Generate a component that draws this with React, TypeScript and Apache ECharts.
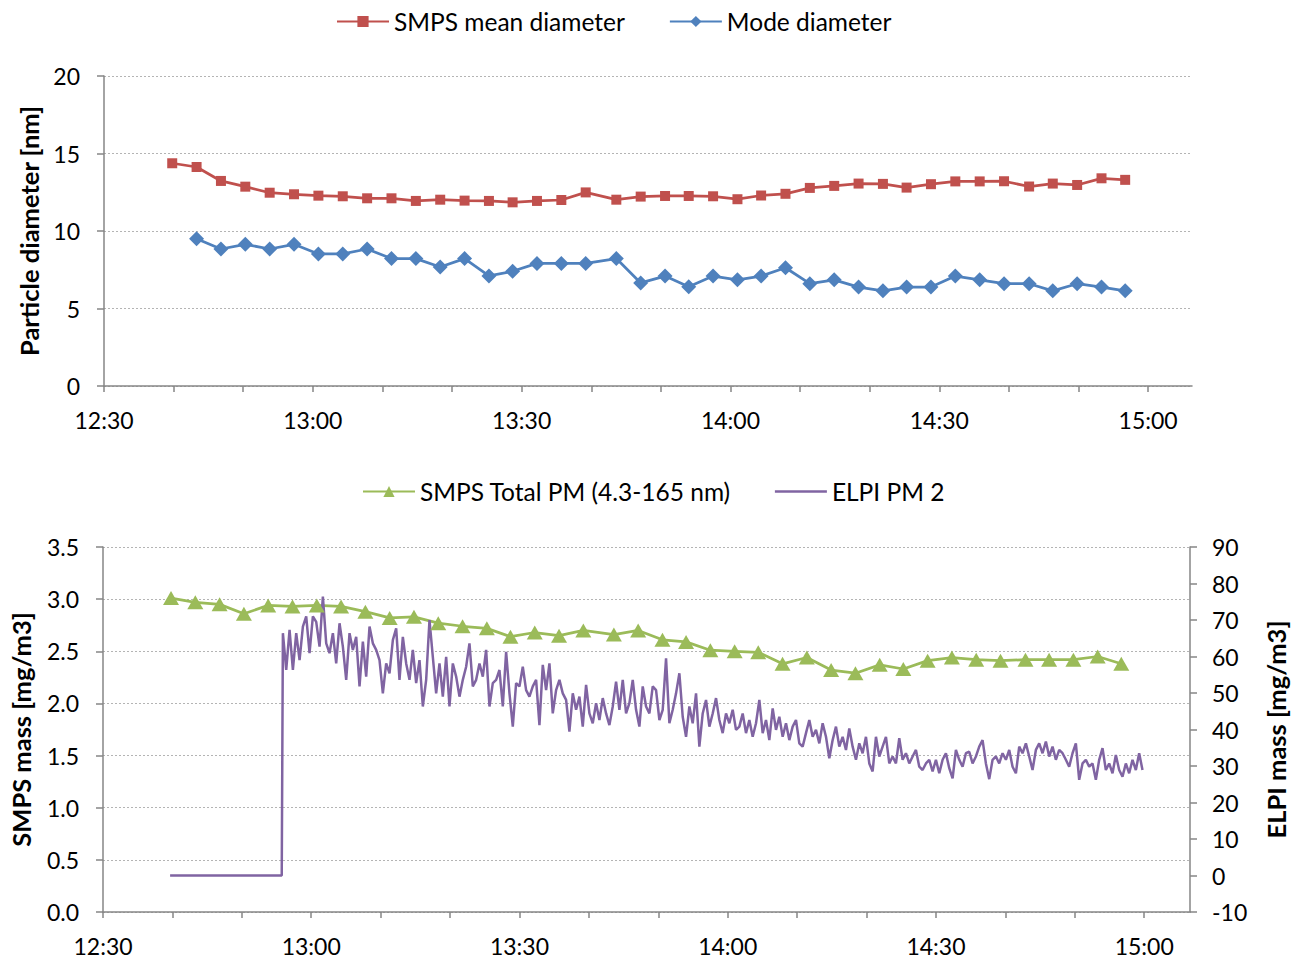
import { useEffect, useRef } from "react";
import * as echarts from "echarts";

// SMPS scan start times (one scan every ~3.5 min)
const smpsTimes = [
  "12:39:48", "12:43:18", "12:46:48", "12:50:18", "12:53:48", "12:57:18", "13:00:48", "13:04:18",
  "13:07:48", "13:11:18", "13:14:48", "13:18:18", "13:21:48", "13:25:18", "13:28:42", "13:32:12",
  "13:35:42", "13:39:12", "13:43:36", "13:47:06", "13:50:36", "13:54:00", "13:57:30", "14:01:00",
  "14:04:24", "14:07:54", "14:11:24", "14:14:54", "14:18:24", "14:21:54", "14:25:18", "14:28:48",
  "14:32:18", "14:35:48", "14:39:18", "14:42:54", "14:46:18", "14:49:48", "14:53:18", "14:56:42",
];

// SMPS mean diameter [nm], one value per scan
const smpsMeanDiameter = [
  14.37, 14.13, 13.23, 12.86, 12.47, 12.37, 12.28, 12.24, 12.11, 12.11,
  11.94, 12.02, 11.96, 11.94, 11.85, 11.94, 12.0, 12.49, 12.02, 12.22,
  12.26, 12.26, 12.24, 12.05, 12.29, 12.4, 12.78, 12.91, 13.06, 13.04,
  12.8, 13.02, 13.2, 13.2, 13.21, 12.87, 13.06, 12.97, 13.4, 13.3,
];

// Mode diameter [nm], available from the second scan on
const modeDiameter = [
  9.5, 8.84, 9.14, 8.84, 9.14, 8.52, 8.52, 8.84, 8.22, 8.22,
  7.68, 8.22, 7.1, 7.4, 7.91, 7.91, 7.91, 8.22, 6.65, 7.09,
  6.4, 7.09, 6.85, 7.09, 7.63, 6.6, 6.85, 6.38, 6.14, 6.38,
  6.38, 7.09, 6.85, 6.6, 6.6, 6.14, 6.6, 6.38, 6.14,
];

// SMPS total particle mass (4.3-165 nm) [mg/m3]
const smpsTotalPM = [
  3.01, 2.97, 2.95, 2.86, 2.94, 2.93, 2.94, 2.93, 2.88, 2.82,
  2.83, 2.77, 2.74, 2.72, 2.64, 2.68, 2.65, 2.7, 2.66, 2.7,
  2.61, 2.59, 2.51, 2.5, 2.49, 2.38, 2.44, 2.32, 2.29, 2.37,
  2.33, 2.41, 2.44, 2.42, 2.41, 2.42, 2.42, 2.42, 2.45, 2.38,
];

// ELPI background before the exposure started [time, mg/m3]
const elpiBackground: [string, number][] = [
  ["12:39:40", 0.0],
  ["12:55:45", 0.0],
];

// ELPI PM 2 record, logged every 28.8 s from elpiStart [mg/m3]
const elpiStart = "12:55:55";
const elpiStepSeconds = 28.8;
const elpiPM2 = [
  66.4, 56.3, 67.3, 56.3, 66.4, 59.0, 68.2, 71.0, 60.9, 71.0,
  69.5, 62.7, 76.4, 63.6, 60.9, 66.4, 58.1, 69.1, 62.7, 53.6,
  66.4, 61.8, 65.4, 51.8, 64.1, 54.5, 68.2, 63.6, 61.8, 59.0,
  49.9, 58.1, 55.4, 64.5, 67.7, 53.6, 65.4, 58.1, 53.6, 61.8,
  52.7, 59.0, 46.3, 53.6, 70.0, 59.9, 49.9, 58.1, 49.0, 59.9,
  46.3, 58.1, 54.5, 49.0, 53.6, 57.2, 63.6, 51.8, 53.6, 58.1,
  54.5, 61.8, 46.3, 52.7, 53.6, 56.3, 46.3, 61.3, 49.9, 40.8,
  52.7, 51.8,
  57.2, 50.8, 49.0, 51.8, 53.6, 41.2, 57.7, 50.8, 58.1, 44.4,
  50.8, 53.6, 49.9, 48.1, 39.4, 49.9, 45.4, 49.0, 40.8, 52.2,
  44.4, 41.7, 47.2, 42.6, 48.6, 44.4, 41.2, 46.3, 53.1, 45.4,
  53.6, 44.4, 47.2, 53.6, 45.4, 40.8, 51.8, 46.3, 44.4, 51.8,
  50.8, 42.6, 45.4, 59.5, 41.7, 45.4, 49.9, 55.4, 43.5, 38.0,
  46.3, 41.7, 49.9, 35.3, 44.4, 48.1, 40.8, 44.4, 48.6, 42.6,
  39.0, 44.4, 41.7, 45.4, 39.9, 40.8, 44.4, 39.0, 42.6,
  38.0, 41.7, 48.1, 39.0, 42.6, 37.1, 45.8, 39.9, 43.5, 38.0,
  41.7, 37.1, 40.8, 42.6, 36.2, 35.3, 39.0, 42.6, 38.0, 39.9,
  36.2, 41.7, 38.0, 32.1, 37.1, 40.8, 35.3, 38.0, 34.4, 40.3,
  35.3, 31.7, 36.2, 33.5, 38.0, 30.7, 28.5, 38.0, 32.6, 35.3,
  38.0, 30.7, 32.6, 30.7, 37.6, 31.7, 33.5, 30.7, 32.6, 34.4,
  29.8, 28.9, 30.7, 31.7, 28.5, 31.7, 28.0, 31.7, 33.5, 29.4,
  26.6, 34.4,
  31.7, 29.8, 33.5, 33.9, 30.7, 32.6, 35.3, 37.1, 30.7, 26.4,
  31.7, 32.6, 30.7, 33.5, 31.7, 34.4, 29.8, 28.0, 35.3, 33.5,
  36.2, 32.6, 28.9, 34.4, 36.2, 33.5, 36.7, 32.6, 35.3, 31.7,
  34.4, 33.5, 31.7, 29.8, 33.5, 36.2, 26.2, 30.7, 31.7, 29.8,
  30.7, 26.2, 31.7, 34.9, 28.9, 30.7, 28.0, 33.0, 28.9, 27.1,
  30.7, 28.0, 31.7, 28.9, 33.5, 28.9,
];

// Time axis labels
const timeLabels = ["12:30", "13:00", "13:30", "14:00", "14:30", "15:00"];

const toMinutes = (t: string) => {
  const [h, m, s] = t.split(":").map(Number);
  return h * 60 + m + (s || 0) / 60;
};
const fmtTime = (v: number) => {
  const h = Math.floor(v / 60);
  const m = Math.round(v - h * 60);
  return `${h}:${String(m).padStart(2, "0")}`;
};

const FONT = "Lato";
const AXIS_GRAY = "#868686";
const GRID_GRAY = "#b4b4b4";
const LINE_ICON = "path://M0,0H100V5H0Z";

export default function App() {
  const ref = useRef<HTMLDivElement>(null);

  useEffect(() => {
    if (!ref.current) return;
    const chart = echarts.init(ref.current, undefined, { renderer: "svg" });

    const smpsX = smpsTimes.map(toMinutes);
    const meanData = smpsMeanDiameter.map((v, i) => [smpsX[i], v]);
    const modeData = modeDiameter.map((v, i) => [smpsX[i + 1], v]);
    const totalData = smpsTotalPM.map((v, i) => [smpsX[i], v]);
    const elpiT0 = toMinutes(elpiStart);
    const elpiData = [
      ...elpiBackground.map(([t, v]) => [toMinutes(t), v]),
      ...elpiPM2.map((v, i) => [elpiT0 + (i * elpiStepSeconds) / 60, v]),
    ];

    const labelVals = timeLabels.map(toMinutes);
    const tMin = labelVals[0];
    const tLast = labelVals[labelVals.length - 1];
    const tickVals: number[] = [];
    for (let v = tMin; v <= tLast + 1e-6; v += 10) tickVals.push(v);

    const xAxisBase = (gridIndex: number, xMax: number) => ({
      type: "value" as const,
      gridIndex,
      min: tMin,
      max: xMax,
      axisLine: { show: true, onZero: false, lineStyle: { color: AXIS_GRAY, width: 1.5 } },
      axisTick: { show: true, customValues: tickVals, length: 6, lineStyle: { color: AXIS_GRAY, width: 1.5 } },
      axisLabel: {
        customValues: labelVals,
        formatter: (v: number) => fmtTime(v),
        fontSize: 23,
        fontFamily: FONT,
        color: "#000",
        margin: 22,
      },
      splitLine: { show: false },
    });

    const yLabel = { fontSize: 23, fontFamily: FONT, color: "#000" };
    const yName = { fontSize: 25.5, fontFamily: FONT, fontWeight: "bold" as const, color: "#000" };
    const split = { show: true, lineStyle: { color: GRID_GRAY, type: [2, 2] as number[], width: 1 } };
    const legendText = { fontSize: 24.5, fontFamily: FONT, color: "#000" };

    chart.setOption({
      animation: false,
      textStyle: { fontFamily: FONT },
      legend: [
        {
          data: ["SMPS mean diameter", "Mode diameter"],
          left: 331,
          top: 4,
          itemWidth: 52,
          itemHeight: 14,
          itemGap: 44,
          textStyle: legendText,
        },
        {
          data: [
            "SMPS Total PM (4.3-165 nm)",
            { name: "ELPI PM 2", icon: LINE_ICON, itemStyle: { color: "#8064A2" } },
          ],
          left: 357,
          top: 474,
          itemWidth: 52,
          itemHeight: 14,
          itemGap: 44,
          textStyle: legendText,
        },
      ],
      grid: [
        { left: 104, top: 76, width: 1088, height: 310, outerBoundsMode: "none", containLabel: false },
        { left: 103, top: 547, width: 1087, height: 365, outerBoundsMode: "none", containLabel: false },
      ],
      xAxis: [xAxisBase(0, tMin + 156.3), xAxisBase(1, tMin + 156.6)],
      yAxis: [
        {
          type: "value",
          gridIndex: 0,
          min: 0,
          max: 20,
          interval: 5,
          name: "Particle diameter [nm]",
          nameLocation: "middle",
          nameRotate: 90,
          nameGap: 62,
          nameTextStyle: yName,
          axisLine: { show: true, lineStyle: { color: AXIS_GRAY, width: 1.5 } },
          axisTick: { show: true, length: 7, lineStyle: { color: AXIS_GRAY, width: 1.5 } },
          axisLabel: { ...yLabel, margin: 24 },
          splitLine: split,
        },
        {
          type: "value",
          gridIndex: 1,
          min: 0,
          max: 3.5,
          interval: 0.5,
          name: "SMPS mass [mg/m3]",
          nameLocation: "middle",
          nameRotate: 90,
          nameGap: 69,
          nameTextStyle: yName,
          axisLine: { show: true, lineStyle: { color: AXIS_GRAY, width: 1.5 } },
          axisTick: { show: true, length: 7, lineStyle: { color: AXIS_GRAY, width: 1.5 } },
          axisLabel: { ...yLabel, margin: 24, formatter: (v: number) => v.toFixed(1) },
          splitLine: split,
        },
        {
          type: "value",
          gridIndex: 1,
          position: "right",
          min: -10,
          max: 90,
          interval: 10,
          name: "ELPI mass [mg/m3]",
          nameLocation: "middle",
          nameRotate: 90,
          nameGap: 73,
          nameTextStyle: yName,
          axisLine: { show: true, lineStyle: { color: AXIS_GRAY, width: 1.5 } },
          axisTick: { show: true, length: 7, lineStyle: { color: AXIS_GRAY, width: 1.5 } },
          axisLabel: { ...yLabel, margin: 22 },
          splitLine: { show: false },
        },
      ],
      series: [
        {
          name: "SMPS mean diameter",
          type: "line",
          xAxisIndex: 0,
          yAxisIndex: 0,
          data: meanData,
          symbol: "rect",
          symbolSize: 10,
          color: "#C0504D",
          lineStyle: { width: 2.75, color: "#C0504D" },
          itemStyle: { color: "#C0504D" },
        },
        {
          name: "Mode diameter",
          type: "line",
          xAxisIndex: 0,
          yAxisIndex: 0,
          data: modeData,
          symbol: "diamond",
          symbolSize: 15,
          color: "#4F81BD",
          lineStyle: { width: 2.75, color: "#4F81BD" },
          itemStyle: { color: "#4F81BD" },
        },
        {
          name: "SMPS Total PM (4.3-165 nm)",
          type: "line",
          xAxisIndex: 1,
          yAxisIndex: 1,
          data: totalData,
          symbol: "triangle",
          symbolSize: [16, 14],
          color: "#9BBB59",
          lineStyle: { width: 2.75, color: "#9BBB59" },
          itemStyle: { color: "#9BBB59" },
        },
        {
          name: "ELPI PM 2",
          type: "line",
          xAxisIndex: 1,
          yAxisIndex: 2,
          data: elpiData,
          showSymbol: false,
          symbol: "none",
          color: "#8064A2",
          lineStyle: { width: 2.5, color: "#8064A2" },
          itemStyle: { color: "#8064A2" },
        },
      ],
    });

    return () => chart.dispose();
  }, []);

  return (
    <div
      ref={ref}
      style={{ position: "absolute", left: 0, top: 0, width: 1302, height: 958, background: "#fff" }}
    />
  );
}
